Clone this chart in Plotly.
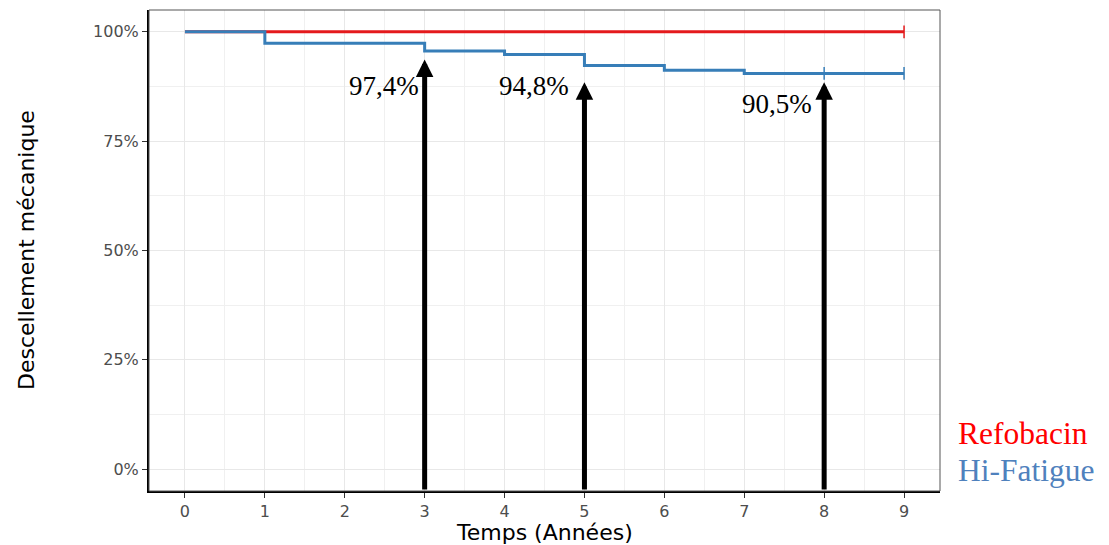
import plotly.graph_objects as go

# ---- data ----
refo_time = [0, 9]
refo_surv = [1.0, 1.0]
hifa_time = [0, 1, 3, 4, 5, 6, 7, 9]
hifa_surv = [1.0, 0.974, 0.956, 0.948, 0.923, 0.912, 0.905, 0.905]
refo_censor_t = [9]
refo_censor_s = [1.0]
hifa_censor_t = [8, 9]
hifa_censor_s = [0.905, 0.905]
arrow_x = [3, 5, 8]
arrow_tip = [0.937, 0.885, 0.885]
label_text = ["97,4%", "94,8%", "90,5%"]
label_x = [2.49, 4.37, 7.41]
label_y = [0.876, 0.876, 0.834]
x_ticks = list(range(0, 10))
y_ticks = [0, 0.25, 0.5, 0.75, 1.0]

RED = "#E41A1C"
BLUE = "#377EB8"

fig = go.Figure()
fig.add_trace(go.Scatter(x=refo_time, y=refo_surv, mode="lines", line_shape="hv",
                         line=dict(color=RED, width=3), showlegend=False, hoverinfo="skip"))
fig.add_trace(go.Scatter(x=hifa_time, y=hifa_surv, mode="lines", line_shape="hv",
                         line=dict(color=BLUE, width=3), showlegend=False, hoverinfo="skip"))
fig.add_trace(go.Scatter(x=refo_censor_t, y=refo_censor_s, mode="markers",
                         marker=dict(symbol="line-ns-open", size=9, color=RED,
                                     line=dict(color=RED, width=1.5)),
                         showlegend=False, hoverinfo="skip"))
fig.add_trace(go.Scatter(x=hifa_censor_t, y=hifa_censor_s, mode="markers",
                         marker=dict(symbol="line-ns-open", size=9, color=BLUE,
                                     line=dict(color=BLUE, width=1.5)),
                         showlegend=False, hoverinfo="skip"))

annotations = []
for xa, tip in zip(arrow_x, arrow_tip):
    annotations.append(dict(x=xa, y=tip, ax=xa, ay=-0.05, xref="x", yref="y", axref="x", ayref="y",
                            text="", showarrow=True, arrowhead=2, arrowwidth=5, arrowsize=0.7,
                            arrowcolor="black"))
for t, lx, ly in zip(label_text, label_x, label_y):
    annotations.append(dict(x=lx, y=ly, xref="x", yref="y", text=t, showarrow=False,
                            font=dict(family="Liberation Serif", size=27, color="black"),
                            xanchor="center", yanchor="middle"))
# axis titles
annotations.append(dict(x=0.5, y=-0.087, xref="paper", yref="paper", text="Temps (Années)",
                        showarrow=False, font=dict(family="DejaVu Sans", size=22, color="black"),
                        xanchor="center", yanchor="middle"))
annotations.append(dict(x=(26.5 - 149) / 791, y=0.5, xref="paper", yref="paper",
                        text="Descellement mécanique", textangle=-90, showarrow=False,
                        font=dict(family="DejaVu Sans", size=22, color="black"),
                        xanchor="center", yanchor="middle"))
# legend texts
annotations.append(dict(x=(956 - 149) / 791, y=(491 - 433) / 481, xref="paper", yref="paper",
                        text="Refobacin", showarrow=False,
                        font=dict(family="Liberation Serif", size=31.5, color="#FF0000"),
                        xanchor="left", yanchor="middle"))
annotations.append(dict(x=(956 - 149) / 791, y=(491 - 470) / 481, xref="paper", yref="paper",
                        text="Hi-Fatigue", showarrow=False,
                        font=dict(family="Liberation Serif", size=31.5, color="#4F81BD"),
                        xanchor="left", yanchor="middle"))

fig.update_layout(
    width=1109, height=545,
    margin=dict(l=149, r=169, t=10, b=54),
    paper_bgcolor="white", plot_bgcolor="white",
    annotations=annotations,
    shapes=[dict(type="rect", xref="paper", yref="paper", x0=0, y0=0, x1=1, y1=1,
                 line=dict(color="#555555", width=1), layer="above")],
)
fig.update_xaxes(range=[-0.45, 9.45], tickvals=x_ticks, ticktext=[str(v) for v in x_ticks],
                 showgrid=True, gridcolor="#E8E8E8", gridwidth=1.3,
                 minor=dict(dtick=0.5, tick0=0, showgrid=True, gridcolor="#F0F0F0", gridwidth=0.8),
                 ticks="outside", ticklen=5, tickcolor="#333333", tickwidth=1,
                 tickfont=dict(family="DejaVu Sans", size=16, color="#4D4D4D"),
                 showline=True, linecolor="black", linewidth=2, zeroline=False)
fig.update_yaxes(range=[-0.05, 1.05], tickvals=y_ticks, tickformat=".0%",
                 showgrid=True, gridcolor="#E8E8E8", gridwidth=1.3,
                 minor=dict(dtick=0.125, tick0=0, showgrid=True, gridcolor="#F0F0F0", gridwidth=0.8),
                 ticks="outside", ticklen=5, tickcolor="#333333", tickwidth=1,
                 tickfont=dict(family="DejaVu Sans", size=16, color="#4D4D4D"),
                 showline=True, linecolor="black", linewidth=2, zeroline=False)

fig.write_html("out.html", config={"displayModeBar": False},
               post_script="document.body.style.margin='0';document.body.style.overflow='hidden';")
